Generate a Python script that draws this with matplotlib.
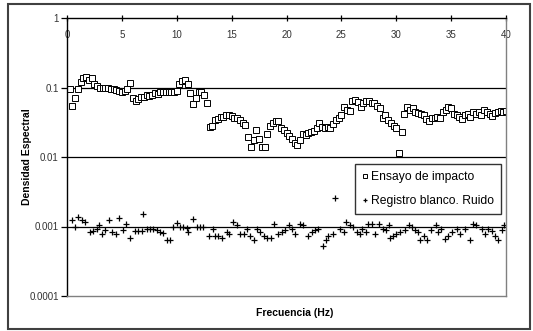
import matplotlib
matplotlib.use("Agg")
import matplotlib.pyplot as plt
from matplotlib.patches import Rectangle
from matplotlib.ticker import FixedLocator, FixedFormatter

plt.rcParams['font.family'] = ['Liberation Sans', 'DejaVu Sans']

# Ensayo de impacto: frecuencias cada 0.25 Hz
freq_impacto = [0.25 * (i + 1) for i in range(160)]
dens_impacto = [
    0.095, 0.055, 0.07, 0.095,
    0.12, 0.135, 0.14, 0.13,
    0.135, 0.112, 0.105, 0.1,
    0.1, 0.1, 0.098, 0.094,
    0.095, 0.092, 0.09, 0.087,
    0.088, 0.094, 0.115, 0.071,
    0.065, 0.068, 0.074, 0.072,
    0.078, 0.075, 0.078, 0.082,
    0.08, 0.087, 0.085, 0.085,
    0.085, 0.086, 0.085, 0.089,
    0.112, 0.122, 0.128, 0.112,
    0.082, 0.057, 0.07, 0.085,
    0.085, 0.078, 0.059, 0.027,
    0.028, 0.034, 0.035, 0.038,
    0.038, 0.04, 0.04, 0.039,
    0.037, 0.036, 0.034, 0.031,
    0.029, 0.0197, 0.0138, 0.0176,
    0.0245, 0.018, 0.014, 0.014,
    0.0215, 0.028, 0.031, 0.033,
    0.033, 0.026, 0.0245, 0.022,
    0.02, 0.018, 0.016, 0.0148,
    0.0176, 0.0215, 0.021, 0.022,
    0.023, 0.024, 0.026, 0.031,
    0.027, 0.026, 0.027, 0.026,
    0.03, 0.034, 0.037, 0.04,
    0.053, 0.048, 0.046, 0.063,
    0.066, 0.062, 0.053, 0.06,
    0.063, 0.065, 0.06, 0.059,
    0.055, 0.05, 0.037, 0.04,
    0.034, 0.031, 0.028, 0.026,
    0.0115, 0.023, 0.042, 0.053,
    0.047, 0.05, 0.045, 0.043,
    0.042, 0.04, 0.035, 0.033,
    0.036, 0.037, 0.038, 0.037,
    0.045, 0.048, 0.052, 0.05,
    0.042, 0.04, 0.038, 0.035,
    0.04, 0.042, 0.038, 0.045,
    0.042, 0.044, 0.04, 0.048,
    0.045, 0.042, 0.039, 0.043,
    0.045, 0.046, 0.044, 0.046,
]

# Registro blanco (ruido)
freq_ruido = [
    0.43, 0.73, 1.03, 1.34, 1.64, 2.1, 2.4, 2.7, 2.94, 3.16, 3.46, 3.85,
    4.07, 4.46, 4.77, 5.13, 5.38, 5.74, 6.2, 6.5, 6.8, 6.95, 7.26, 7.56,
    7.86, 8.17, 8.47, 8.77, 9.08, 9.38, 9.69, 10.0, 10.3, 10.6, 10.9, 11.05,
    11.5, 11.8, 12.1, 12.4, 12.9, 13.3, 13.5, 13.8, 14.1, 14.55, 14.8, 15.1,
    15.5, 15.8, 16.1, 16.4, 16.7, 17.0, 17.3, 17.6, 17.95, 18.2, 18.55, 18.9,
    19.25, 19.55, 19.9, 20.2, 20.5, 20.8, 21.2, 21.5, 22.0, 22.3, 22.6, 22.9,
    23.3, 23.6, 23.8, 24.2, 24.4, 24.9, 25.2, 25.4, 25.8, 26.1, 26.4, 26.7,
    26.9, 27.2, 27.45, 27.8, 28.1, 28.4, 28.8, 29.1, 29.3, 29.4, 29.7, 30.0,
    30.3, 30.8, 31.2, 31.4, 31.7, 32.0, 32.2, 32.5, 32.8, 33.2, 33.6, 33.8,
    34.1, 34.4, 34.75, 35.05, 35.5, 35.8, 36.3, 36.7, 37.0, 37.3, 37.8, 38.1,
    38.4, 38.7, 39.0, 39.3, 39.6, 39.8,
]
dens_ruido = [
    0.00124, 0.00097, 0.00138, 0.00124, 0.00117, 0.00084, 0.00087, 0.00092, 0.00106, 0.00079, 0.00088, 0.00124,
    0.00084, 0.00077, 0.00131, 0.00088, 0.00107, 0.00068, 0.00086, 0.00086, 0.00086, 0.0015, 0.00093, 0.00092,
    0.00093, 0.00088, 0.00082, 0.0008, 0.00064, 0.00063, 0.00098, 0.00112, 0.00098, 0.00099, 0.00096, 0.00084,
    0.00128, 0.00099, 0.00099, 0.00098, 0.00074, 0.00091, 0.00072, 0.00072, 0.00068, 0.00084, 0.00079, 0.00117,
    0.00104, 0.00077, 0.00079, 0.00093, 0.00074, 0.00063, 0.00091, 0.00084, 0.00072, 0.00068, 0.00068, 0.00107,
    0.00079, 0.00084, 0.00088, 0.00105, 0.00091, 0.00079, 0.00107, 0.00104, 0.00074, 0.00084, 0.00088, 0.00093,
    0.00053, 0.00064, 0.00074, 0.00079, 0.00255, 0.00093, 0.00084, 0.00117, 0.00104, 0.00098, 0.00084, 0.00079,
    0.00093, 0.00082, 0.00107, 0.00107, 0.00079, 0.00107, 0.00093, 0.00088, 0.00105, 0.00068, 0.00072, 0.00077,
    0.00082, 0.00088, 0.00105, 0.00098, 0.00088, 0.00082, 0.00064, 0.00072, 0.00064, 0.00088, 0.00105, 0.00084,
    0.00093, 0.00066, 0.00072, 0.00084, 0.00093, 0.00077, 0.00091, 0.00063, 0.00107, 0.00104, 0.00093, 0.00079,
    0.00093, 0.00086, 0.00072, 0.00064, 0.00088, 0.00104,
]

y_ticks = [1, 0.1, 0.01, 0.001, 0.0001]
y_labels = ['1', '0.1', '0.01', '0.001', '0.0001']
x_ticks = [0, 5, 10, 15, 20, 25, 30, 35, 40]

W, H = 533, 331
fig = plt.figure(figsize=(W / 100, H / 100), dpi=100)
ax = fig.add_axes([67 / W, 1 - 296 / H, (506 - 67) / W, (296 - 18) / H])

ax.plot(freq_impacto, dens_impacto, linestyle='none', marker='s', markersize=4.6,
        markerfacecolor='white', markeredgecolor='black', markeredgewidth=0.7,
        label='Ensayo de impacto')
ax.plot(freq_ruido, dens_ruido, linestyle='none', marker='+', markersize=5,
        color='black', markeredgewidth=0.9, label='Registro blanco. Ruido')

ax.set_yscale('log')
ax.set_ylim(0.0001, 1)
ax.set_xlim(0, 40)
ax.yaxis.set_major_locator(FixedLocator(y_ticks))
ax.yaxis.set_major_formatter(FixedFormatter(y_labels))
ax.yaxis.set_minor_locator(FixedLocator([]))
ax.set_xticks(x_ticks)

for y in y_ticks[1:-1]:
    ax.axhline(y, color='black', linewidth=0.9, zorder=0)

for side in ['right', 'bottom']:
    ax.spines[side].set_color('#808080')
    ax.spines[side].set_linewidth(1.0)
for side in ['left', 'top']:
    ax.spines[side].set_color('black')
    ax.spines[side].set_linewidth(1.0)

ax.tick_params(axis='x', bottom=False, labelbottom=False, top=True, labeltop=True,
               direction='inout', length=5, width=0.9, pad=-18, labelsize=7,
               labelcolor='#333333')
ax.tick_params(axis='y', direction='out', length=4, width=0.9, labelsize=7,
               labelcolor='#333333', pad=2)

fig.text(27 / W, 1 - 157 / H, 'Densidad Espectral', rotation=90, ha='center',
         va='center', fontsize=7.5, fontweight='bold')
fig.text(295 / W, 1 - 313 / H, 'Frecuencia (Hz)', ha='center', va='center',
         fontsize=7.5, fontweight='bold')

leg = ax.legend(loc='upper left', bbox_to_anchor=(355 / W, 1 - 164 / H),
                bbox_transform=fig.transFigure, fontsize=8.7, frameon=True,
                fancybox=False, borderpad=0.6, handlelength=0.45, handletextpad=0.25,
                labelspacing=0.95, borderaxespad=0, markerscale=0.7)
leg.get_frame().set_edgecolor('black')
leg.get_frame().set_linewidth(1.0)

fig.patches.append(Rectangle((8 / W, 1 - 329 / H), (530 - 8) / W, (329 - 4) / H,
                             transform=fig.transFigure, fill=False,
                             edgecolor='#404040', linewidth=1.5))

fig.savefig('out.png', dpi=100)
